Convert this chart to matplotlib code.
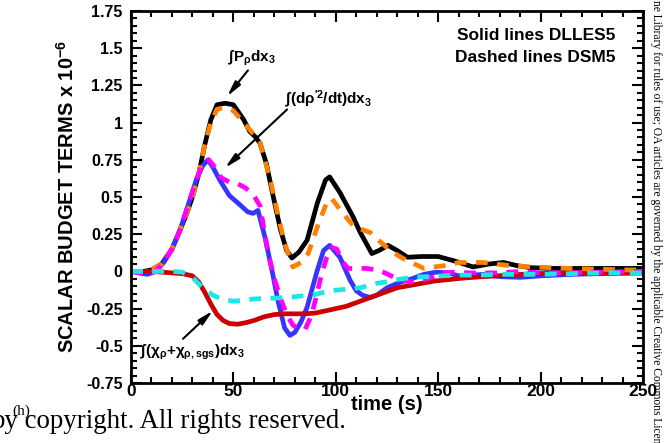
import matplotlib
matplotlib.use("Agg")
import matplotlib.pyplot as plt
from matplotlib.ticker import MultipleLocator, FormatStrFormatter

plt.rcParams['font.family'] = ['Liberation Sans', 'DejaVu Sans']
plt.rcParams['font.weight'] = 'bold'
plt.rcParams['axes.unicode_minus'] = False
plt.rcParams['mathtext.fontset'] = 'custom'
plt.rcParams['mathtext.rm'] = 'Liberation Sans'
plt.rcParams['mathtext.bf'] = 'Liberation Sans:bold'
plt.rcParams['mathtext.it'] = 'Liberation Sans:italic'
plt.rcParams['mathtext.default'] = 'regular'

# production term, DLLES5 (solid) and DSM5 (dashed)
t_prod_les = [0, 6, 10, 15, 20, 24, 27, 30, 33, 36, 39, 42, 46, 50, 55, 58, 61, 63, 66, 69.5, 73, 76, 78.6,
              82, 86, 91, 95, 97, 102, 108.5, 112, 117.6, 121, 125.5, 130, 135, 142, 150, 158, 167, 175, 182,
              188, 195, 205, 220, 235, 250]
prod_les = [0, 0, 0.01, 0.05, 0.15, 0.28, 0.38, 0.5, 0.65, 0.85, 1.02, 1.12, 1.13, 1.12, 1.02, 0.94, 0.9, 0.86,
            0.73, 0.5, 0.28, 0.14, 0.09, 0.13, 0.21, 0.46, 0.615, 0.635, 0.53, 0.365, 0.26, 0.12, 0.14, 0.175,
            0.14, 0.095, 0.1, 0.1, 0.07, 0.03, 0.05, 0.06, 0.04, 0.025, 0.02, 0.02, 0.02, 0.02]
t_prod_dsm = [0, 6, 10, 15, 20, 24, 27, 30, 33, 36, 39, 42, 46, 50, 55, 60, 63, 68, 72, 75, 79, 83, 86.5, 91,
              95.5, 98, 103.5, 109, 113, 117, 120, 125, 130, 135, 140, 143, 148, 154, 160, 166, 172, 178, 184,
              190, 196, 205, 214, 228, 242, 250]
prod_dsm = [0, 0, 0.01, 0.05, 0.15, 0.28, 0.38, 0.5, 0.65, 0.85, 1.0, 1.09, 1.1, 1.08, 1.0, 0.92, 0.865, 0.615,
            0.365, 0.19, 0.03, 0.06, 0.12, 0.3, 0.46, 0.49, 0.39, 0.3, 0.28, 0.26, 0.22, 0.16, 0.11, 0.07, 0.04,
            0.02, 0.03, 0.04, 0.06, 0.06, 0.06, 0.05, 0.04, 0.035, 0.03, 0.025, 0.02, 0.015, 0.01, 0.01]

# rate of change of the scalar variance
t_rate_les = [0, 4, 8, 12, 16, 20, 24, 28, 32, 35, 37.6, 40, 43.5, 48, 53, 57, 59.6, 62, 65.4, 68.8, 71.8, 75,
              77.6, 80, 83, 86, 90.8, 94, 97, 102, 107, 110, 113, 116.7, 120, 125, 131, 137, 143, 149, 155, 160,
              166, 172, 180, 190, 200, 215, 230, 250]
rate_les = [0, -0.01, -0.02, 0.0, 0.06, 0.15, 0.28, 0.45, 0.62, 0.71, 0.75, 0.7, 0.61, 0.51, 0.45, 0.4, 0.39,
            0.41, 0.23, 0.01, -0.2, -0.38, -0.43, -0.41, -0.34, -0.24, 0.0, 0.14, 0.175, 0.095, -0.06, -0.13,
            -0.16, -0.175, -0.16, -0.11, -0.075, -0.05, -0.02, -0.005, -0.01, -0.03, -0.025, -0.02, -0.035,
            -0.04, -0.03, -0.02, -0.015, -0.01]
t_rate_dsm = [0, 4, 8, 12, 16, 20, 24, 28, 32, 35, 38, 41, 44, 48, 52, 56, 60, 63, 67, 70, 73, 76, 79, 82, 85,
              88, 90.5, 93, 95.5, 98, 100.5, 103, 106, 110, 115, 120, 124, 130, 136, 142, 147, 152, 158, 165,
              172, 180, 190, 200, 215, 230, 250]
rate_dsm = [0, -0.01, -0.02, 0.0, 0.06, 0.15, 0.28, 0.45, 0.62, 0.72, 0.75, 0.7, 0.63, 0.6, 0.59, 0.56, 0.51,
            0.44, 0.12, -0.05, -0.18, -0.29, -0.36, -0.39, -0.39, -0.3, -0.17, -0.02, 0.09, 0.16, 0.15, 0.07,
            0.02, 0.02, 0.02, 0.01, -0.01, -0.05, -0.07, -0.06, -0.04, -0.01, -0.005, -0.01, -0.01, -0.01, 0.0,
            -0.01, -0.01, -0.005, 0.0]

# dissipation (resolved + sgs)
t_diss_les = [0, 10, 15, 20, 25, 30, 33, 36, 39, 42, 45, 48, 52, 56, 60, 65, 70, 75, 80, 85, 90, 95, 100, 105,
              110, 115, 120, 125, 130, 136, 142, 148, 155, 162, 172, 185, 196, 210, 230, 250]
diss_les = [0, 0, -0.005, -0.01, -0.015, -0.03, -0.07, -0.14, -0.22, -0.29, -0.33, -0.35, -0.355, -0.345,
            -0.33, -0.305, -0.29, -0.285, -0.285, -0.285, -0.28, -0.265, -0.25, -0.235, -0.21, -0.185, -0.16,
            -0.135, -0.11, -0.095, -0.08, -0.065, -0.055, -0.045, -0.035, -0.025, -0.015, -0.012, -0.01, -0.01]
t_diss_dsm = [0, 10, 20, 25, 30, 35, 40, 45, 50, 55, 60, 70, 80, 90, 97, 105, 112, 120, 125, 130, 137, 145,
              152, 160, 170, 180, 190, 200, 215, 230, 250]
diss_dsm = [0, 0, 0, -0.005, -0.04, -0.11, -0.16, -0.19, -0.2, -0.195, -0.185, -0.18, -0.17, -0.155, -0.13,
            -0.12, -0.11, -0.08, -0.07, -0.055, -0.04, -0.035, -0.03, -0.025, -0.025, -0.02, -0.02, -0.02,
            -0.015, -0.01, -0.01]

fig = plt.figure(figsize=(6.68, 4.43), dpi=100)
ax = fig.add_axes([131 / 668, 60 / 443, 512 / 668, 372 / 443])

lw = 3.4
dash = (0, (2.5, 2.0))
ax.plot(t_prod_les, prod_les, color='black', lw=lw)
ax.plot(t_rate_les, rate_les, color='#3535ff', lw=lw)
ax.plot(t_diss_les, diss_les, color='#cc0000', lw=lw)
ax.plot(t_prod_dsm, prod_dsm, color='#ff8000', lw=lw, ls=dash)
ax.plot(t_rate_dsm, rate_dsm, color='#ff00ff', lw=lw, ls=dash)
ax.plot(t_diss_dsm, diss_dsm, color='#1ee6e6', lw=lw, ls=dash)

ax.set_xlim(0, 250)
ax.set_ylim(-0.75, 1.75)
ax.xaxis.set_major_locator(MultipleLocator(50))
ax.xaxis.set_minor_locator(MultipleLocator(10))
ax.yaxis.set_major_locator(MultipleLocator(0.25))
ax.yaxis.set_minor_locator(MultipleLocator(0.05))
ax.yaxis.set_major_formatter(FormatStrFormatter('%g'))
ax.tick_params(which='both', direction='in', top=True, right=True, width=1.5)
ax.tick_params(which='major', length=8)
ax.tick_params(which='minor', length=4.5)
ax.tick_params(axis='x', labelsize=12.5, pad=1)
ax.tick_params(axis='y', labelsize=11.5, pad=6)
for lab in ax.get_xticklabels() + ax.get_yticklabels():
    lab.set_fontweight('bold')
for sp in ax.spines.values():
    sp.set_linewidth(2)

ax.set_xlabel('time (s)', fontsize=14.5, fontweight='bold', labelpad=-3)
ax.set_ylabel(r'SCALAR BUDGET TERMS x 10$^{\mathbf{-6}}$', fontsize=14.5, fontweight='bold', labelpad=6)

ax.text(0.947, 0.935, 'Solid lines DLLES5', transform=ax.transAxes, ha='right', va='center',
        fontsize=12.5, fontweight='bold')
ax.text(0.947, 0.876, 'Dashed lines DSM5', transform=ax.transAxes, ha='right', va='center',
        fontsize=12.5, fontweight='bold')

arrow = dict(arrowstyle='-|>,head_length=0.9,head_width=0.2', color='black', lw=1.5, shrinkA=0, shrinkB=0)
ax.annotate('', xy=(46.9, 1.176), xytext=(57.1, 1.351), arrowprops=arrow)
ax.text(59, 1.43, r'$\int\mathbf{P}_{\rho}\mathbf{dx}_{\mathbf{3}}$', ha='center', va='center', fontsize=11)
ax.annotate('', xy=(45.9, 0.696), xytext=(76.2, 1.088), arrowprops=arrow)
ax.text(96.7, 1.155, r'$\int\mathbf{(d}\rho^{\prime \mathbf{2}}\mathbf{/dt)dx}_{\mathbf{3}}$',
        ha='center', va='center', fontsize=11)
ax.annotate('', xy=(40, -0.264), xytext=(25.4, -0.453), arrowprops=arrow)
ax.text(29.8, -0.547, r'$\int\mathbf{(}\chi_{\rho}\mathbf{+}\chi_{\rho\mathbf{,sgs}}\mathbf{)dx}_{\mathbf{3}}$',
        ha='center', va='center', fontsize=11)

# page text around the figure
fig.text(-9 / 668, 15 / 443, 'by copyright. All rights reserved.', family='Liberation Serif',
         fontweight='normal', fontsize=19.4, ha='left', va='baseline')
fig.text(12 / 668, 1 - 411 / 443, '(h)', family='Liberation Serif', fontweight='normal', fontsize=11,
         ha='left', va='center')
fig.text(656 / 668, 1.0, 'ne Library for rules of use; OA articles are governed by the applicable Creative Commons Licen',
         family='Liberation Serif', fontweight='normal', fontsize=8.3, rotation=-90, rotation_mode='anchor',
         ha='left', va='center')

fig.savefig('out.png', dpi=100)
